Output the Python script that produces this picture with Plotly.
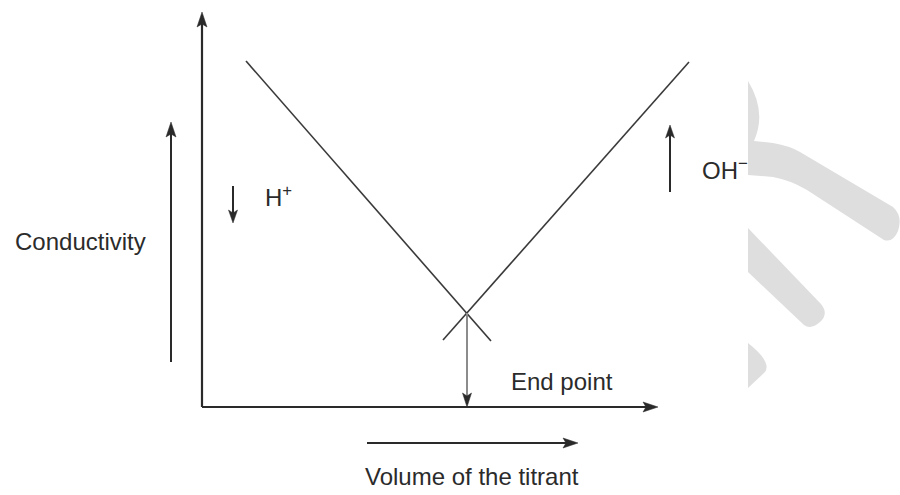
import math
import plotly.graph_objects as go

# ---- data (diagram units: origin at the axes corner, 1 unit ~ 1 px) ----
acid_volume = [44, 289]          # H+ branch (falling)
acid_conductivity = [346, 66]
base_volume = [241, 487]         # OH- branch (rising)
base_conductivity = [67, 345]
end_point_volume = 265
end_point_conductivity = 94

# arrows: (x_start, y_start, x_tip, y_tip)
axis_y_arrow = (0, 0, 0, 395)
axis_x_arrow = (0, 0, 456, 0)
conductivity_arrow = (-31, 45, -31, 285)
volume_arrow = (165, -36, 376, -36)
h_arrow = (31, 221, 31, 184)
oh_arrow = (468, 215, 468, 282)
end_arrow = (end_point_volume, end_point_conductivity, end_point_volume, 0)

labels = ["Conductivity", "H<sup>+</sup>", "OH<sup>\u2212</sup>", "End point", "Volume of the titrant"]
label_x = [-189, 61, 498, 307, 270]
label_y = [166, 211, 238, 26, -69]
label_anchor = ["left", "left", "left", "left", "center"]

W, H = 900, 495
X0, Y0 = 202, 407  # pixel position of the origin

fig = go.Figure()

line_col = "#3a3a3a"
fig.add_trace(go.Scatter(x=acid_volume, y=acid_conductivity, mode="lines",
                         line=dict(color=line_col, width=1.6), hoverinfo="skip"))
fig.add_trace(go.Scatter(x=base_volume, y=base_conductivity, mode="lines",
                         line=dict(color=line_col, width=1.6), hoverinfo="skip"))

shapes = []

# watermark (pixel coords -> paper coords)
def px_path(cmds):
    out = []
    for c in cmds:
        if isinstance(c, str):
            out.append(c)
        else:
            x, y = c
            out.append(f"{x / W:.5f},{1 - y / H:.5f}")
    return " ".join(out)

wm = "#dedede"
wm_paths = [
    ["M", (748, 81), "Q", (767, 112), (754, 141), "L", (773, 143), "Q", (790, 146), (800, 152),
     "L", (893, 207), "Q", (903, 216), (898, 231), "Q", (893, 243), (884, 240),
     "L", (807, 190), "Q", (790, 180), (773, 177), "L", (748, 175), "Z"],
    ["M", (748, 228), "L", (821, 304), "Q", (829, 314), (820, 322), "Q", (811, 330), (804, 325),
     "L", (748, 272), "Z"],
    ["M", (748, 343), "Q", (772, 362), (765, 372), "L", (748, 388), "Z"],
]
for p in wm_paths:
    shapes.append(dict(type="path", xref="paper", yref="paper", path=px_path(p),
                       fillcolor=wm, line=dict(width=0), layer="below"))


def add_arrow(a, color="#2a2a2a", width=2.0, head_color=None, L=15, hw=5, notch=3):
    x0, y0, x1, y1 = a
    hc = head_color or color
    dx, dy = x1 - x0, y1 - y0
    d = math.hypot(dx, dy)
    ux, uy = dx / d, dy / d
    px, py = -uy, ux
    bx, by = x1 - ux * L, y1 - uy * L
    nx, ny = x1 - ux * (L - notch), y1 - uy * (L - notch)
    shapes.append(dict(type="line", xref="x", yref="y", x0=x0, y0=y0,
                       x1=x1 - ux * (L - notch), y1=y1 - uy * (L - notch),
                       line=dict(color=color, width=width)))
    path = (f"M{x1},{y1} L{bx + px * hw},{by + py * hw} L{nx},{ny} "
            f"L{bx - px * hw},{by - py * hw} Z")
    shapes.append(dict(type="path", xref="x", yref="y", path=path,
                       fillcolor=hc, line=dict(color=hc, width=0.5)))


add_arrow(axis_y_arrow, width=2.2)
add_arrow(axis_x_arrow, width=2.2)
add_arrow(conductivity_arrow, width=2.0)
add_arrow(volume_arrow, width=2.0)
add_arrow(h_arrow, width=2.0, L=13, hw=4.5)
add_arrow(oh_arrow, width=2.0, L=13, hw=4.5)
add_arrow(end_arrow, color="#8c8c8c", width=2.0, head_color="#2a2a2a", L=14, hw=4.5)

annotations = []
for t, x, y, a in zip(labels, label_x, label_y, label_anchor):
    annotations.append(dict(text=t, x=x, y=y, xref="x", yref="y", xanchor=a, yanchor="middle",
                            showarrow=False,
                            font=dict(family="Liberation Sans, Arial, sans-serif", size=24,
                                      color="#2b2b2b")))

fig.update_layout(
    width=W, height=H,
    margin=dict(l=0, r=0, t=0, b=0),
    paper_bgcolor="white", plot_bgcolor="white",
    showlegend=False,
    xaxis=dict(range=[-X0, W - X0], visible=False, fixedrange=True),
    yaxis=dict(range=[Y0 - H, Y0], visible=False, fixedrange=True),
    shapes=shapes,
    annotations=annotations,
)

fig.write_html("out.html", config={"displayModeBar": False},
               post_script="document.body.style.margin='0';document.body.style.overflow='hidden';")
